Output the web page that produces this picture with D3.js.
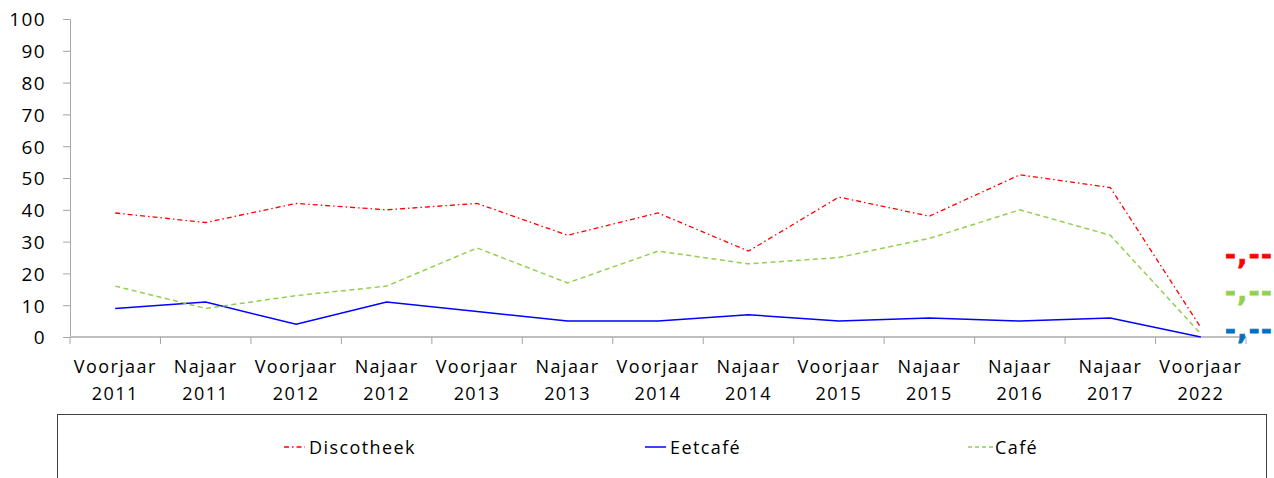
<!DOCTYPE html>
<html>
<head>
<meta charset="utf-8">
<script src="https://cdn.jsdelivr.net/npm/d3@7"></script>
<style>
  body { margin: 0; background: #fff; }
  svg text { font-family: "Open Sans", sans-serif; letter-spacing: 1.4px; }
</style>
</head>
<body>
<svg id="chart"></svg>
<script>
// Categories (two-line tick labels)
var periods = [
  ["Voorjaar", "2011"], ["Najaar", "2011"], ["Voorjaar", "2012"], ["Najaar", "2012"],
  ["Voorjaar", "2013"], ["Najaar", "2013"], ["Voorjaar", "2014"], ["Najaar", "2014"],
  ["Voorjaar", "2015"], ["Najaar", "2015"], ["Najaar", "2016"], ["Najaar", "2017"],
  ["Voorjaar", "2022"]
];

// Series values
var discotheek = [39, 36, 42, 40, 42, 32, 39, 27, 44, 38, 51, 47, 3];
var eetcafe    = [9, 11, 4, 11, 8, 5, 5, 7, 5, 6, 5, 6, 0];
var cafe       = [16, 9, 13, 16, 28, 17, 27, 23, 25, 31, 40, 32, 1];

var seriesNames = ["Discotheek", "Eetcafé", "Café"];
var yTicks = [0, 10, 20, 30, 40, 50, 60, 70, 80, 90, 100];

var width = 1274, height = 478;
var margin = { left: 70, right: 28, top: 19, bottom: 141 };

var svg = d3.select("#chart")
  .attr("width", width)
  .attr("height", height);

var keys = periods.map(function (p, i) { return i; });

var x = d3.scaleBand()
  .domain(keys)
  .range([margin.left, width - margin.right]);

var y = d3.scaleLinear()
  .domain([0, 100])
  .range([height - margin.bottom, margin.top]);

// Y axis
var yAxis = svg.append("g")
  .attr("transform", "translate(" + margin.left + ",0)")
  .call(d3.axisLeft(y).tickValues(yTicks).tickSize(7).tickPadding(17));
yAxis.select(".domain").attr("stroke", "#a6a6a6");
yAxis.selectAll(".tick line").attr("stroke", "#a6a6a6");
yAxis.selectAll(".tick text")
  .attr("font-size", 19)
  .attr("font-family", "Open Sans, sans-serif")
  .attr("fill", "#000")
  .attr("dy", "0.36em");

// X axis: ticks at band boundaries
var xAxisG = svg.append("g")
  .attr("transform", "translate(0," + y(0) + ")");
xAxisG.append("line")
  .attr("x1", margin.left).attr("x2", width - margin.right)
  .attr("y1", 0).attr("y2", 0)
  .attr("stroke", "#bfbfbf")
  .attr("stroke-width", 2);
var bounds = keys.map(function (k) { return x(k); }).concat([x.range()[1]]);
xAxisG.selectAll(".xtick")
  .data(bounds)
  .enter()
  .append("line")
  .attr("class", "xtick")
  .attr("x1", function (d) { return d; })
  .attr("x2", function (d) { return d; })
  .attr("y1", 0).attr("y2", 7)
  .attr("stroke", "#a6a6a6");

var xLabels = xAxisG.selectAll(".xlabel")
  .data(periods)
  .enter()
  .append("text")
  .attr("class", "xlabel")
  .attr("text-anchor", "middle")
  .attr("font-size", 18)
  .attr("fill", "#000");
xLabels.append("tspan")
  .attr("x", function (d, i) { return x(i) + x.bandwidth() / 2; })
  .attr("y", 36)
  .text(function (d) { return d[0]; });
xLabels.append("tspan")
  .attr("x", function (d, i) { return x(i) + x.bandwidth() / 2; })
  .attr("y", 63)
  .text(function (d) { return d[1]; });

// Lines
var line = d3.line()
  .x(function (d, i) { return x(i) + x.bandwidth() / 2; })
  .y(function (d) { return y(d); });

var styles = [
  { color: "#ff0000", dash: "5,3,1.5,3", w: 1.3 },
  { color: "#0000ff", dash: null, w: 1.5 },
  { color: "#92d050", dash: "5,3.5", w: 1.5 }
];
var allSeries = [discotheek, eetcafe, cafe];

svg.selectAll(".series")
  .data(allSeries)
  .enter()
  .append("path")
  .attr("class", "series")
  .attr("d", line)
  .attr("fill", "none")
  .attr("stroke", function (d, i) { return styles[i].color; })
  .attr("stroke-width", function (d, i) { return styles[i].w; })
  .attr("stroke-dasharray", function (d, i) { return styles[i].dash; });

// Odd markers at the right edge
var markerColors = ["#ff0000", "#92d050", "#0070c0"];
var markerY = [255, 292, 330];
svg.selectAll(".marker")
  .data(markerColors)
  .enter()
  .append("text")
  .attr("class", "marker")
  .attr("x", 1225)
  .attr("y", function (d, i) { return markerY[i] + 9; })
  .attr("font-size", 26)
  .attr("font-weight", "bold")
  .style("font-family", "DejaVu Sans, sans-serif")
  .style("letter-spacing", "1.5px")
  .attr("fill", function (d) { return d; })
  .attr("stroke", function (d) { return d; })
  .attr("stroke-width", 0.8)
  .text("-,--");

// Legend box
svg.append("rect")
  .attr("x", 57.5).attr("y", 414.5)
  .attr("width", 1209).attr("height", 80)
  .attr("fill", "none")
  .attr("stroke", "#404040")
  .attr("stroke-width", 1);

var legendX = [284, 645, 968];
var legend = svg.selectAll(".legend")
  .data(seriesNames)
  .enter()
  .append("g")
  .attr("class", "legend")
  .attr("transform", function (d, i) { return "translate(" + legendX[i] + ",447)"; });
legend.append("line")
  .attr("x1", 0).attr("x2", function (d, i) { return i === 2 ? 25 : 21; })
  .attr("y1", 0).attr("y2", 0)
  .attr("stroke", function (d, i) { return styles[i].color; })
  .attr("stroke-width", function (d, i) { return styles[i].w; })
  .attr("stroke-dasharray", function (d, i) { return i === 0 ? "5,3,1.5,3" : styles[i].dash ? "4,3" : null; });
legend.append("text")
  .attr("x", function (d, i) { return i === 2 ? 27 : 25; })
  .attr("y", 7)
  .attr("font-size", 18)
  .attr("fill", "#000")
  .text(function (d) { return d; });
</script>
</body>
</html>
